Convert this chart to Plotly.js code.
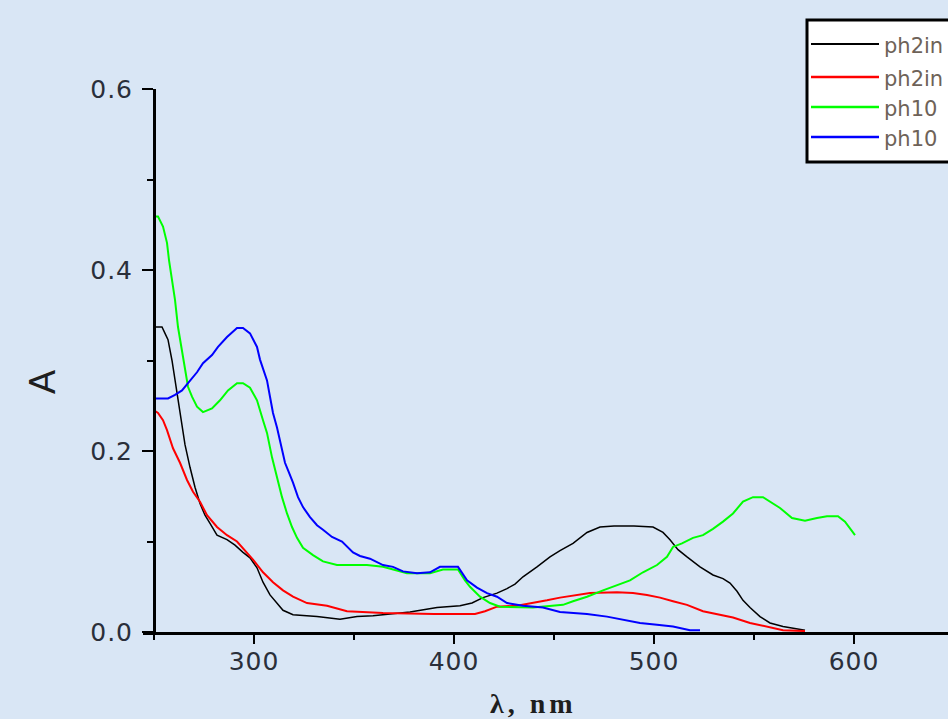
<!DOCTYPE html>
<html>
<head>
<meta charset="utf-8">
<script src="https://cdn.plot.ly/plotly-3.0.1.min.js"></script>
<style>
  html, body { margin: 0; padding: 0; overflow: hidden; background: #d9e6f5; }
  #chart { width: 948px; height: 719px; }
  .xtick text, .ytick text { letter-spacing: 1px; }
  .annotation[data-index="1"] text { letter-spacing: 4px; }
</style>
</head>
<body>
<div id="chart"></div>
<script>
// ---- data ----
const seriesNames = ["ph2in", "ph2in", "ph10", "ph10"];
const seriesColors = ["#000000", "#ff0000", "#00ff00", "#0000ff"];

const blackX = [250, 254, 255.5, 257, 259, 260.5, 262, 264, 265.5, 268, 270.5, 273, 275.5, 278, 281.5, 286.5, 290.5, 294.5, 298, 301.5, 304.5, 308, 311.5, 314.5, 319.5, 331.5, 343, 351.5, 359.5, 378, 391.5, 403, 409, 414.5, 421.5, 426.5, 430.5, 434.5, 441.5, 448, 453, 459.5, 466.5, 473, 480, 490, 499.5, 504.5, 508, 512, 516.5, 523, 529.5, 534.5, 538, 541.5, 544.5, 548, 553, 558, 564.5, 575.5];
const blackY = [0.337, 0.337, 0.330, 0.323, 0.300, 0.278, 0.256, 0.227, 0.207, 0.182, 0.160, 0.142, 0.129, 0.120, 0.107, 0.102, 0.096, 0.088, 0.082, 0.071, 0.055, 0.041, 0.032, 0.024, 0.019, 0.017, 0.014, 0.017, 0.018, 0.022, 0.027, 0.029, 0.032, 0.038, 0.043, 0.048, 0.053, 0.061, 0.072, 0.083, 0.090, 0.098, 0.110, 0.116, 0.117, 0.117, 0.116, 0.110, 0.102, 0.091, 0.083, 0.072, 0.063, 0.059, 0.054, 0.045, 0.035, 0.027, 0.017, 0.010, 0.006, 0.002];

const redX = [250, 252, 254.5, 256.5, 259.5, 263, 266.5, 269.5, 273, 276.5, 281.5, 286.5, 291.5, 296.5, 299.5, 304.5, 309.5, 314.5, 319.5, 326.5, 336.5, 346.5, 364.5, 390, 410.5, 415.5, 421.5, 431.5, 439.5, 446.5, 453, 461.5, 468, 481.5, 489.5, 496.5, 503, 509.5, 516.5, 524.5, 531.5, 539.5, 548, 556.5, 564.5, 575.5];
const redY = [0.245, 0.242, 0.234, 0.223, 0.203, 0.187, 0.168, 0.155, 0.144, 0.129, 0.116, 0.107, 0.100, 0.088, 0.080, 0.066, 0.055, 0.046, 0.039, 0.032, 0.029, 0.023, 0.021, 0.020, 0.020, 0.023, 0.028, 0.029, 0.032, 0.035, 0.038, 0.041, 0.043, 0.044, 0.043, 0.041, 0.038, 0.034, 0.030, 0.023, 0.020, 0.016, 0.010, 0.006, 0.002, 0.001];

const greenX = [250, 252, 254.5, 256.5, 257.5, 259, 260.5, 262, 264, 265.5, 267, 269, 271.5, 274.5, 279, 283, 287, 291.5, 294.5, 298, 301.5, 304.5, 306.5, 309, 311.5, 314, 316.5, 319, 321.5, 324.5, 329.5, 334.5, 341.5, 356.5, 364.5, 376.5, 388, 394.5, 402, 405.5, 408, 413, 418, 423, 439.5, 448, 454.5, 459.5, 466.5, 474.5, 481.5, 488, 494.5, 501.5, 506.5, 509.5, 514, 519.5, 524.5, 529.5, 534.5, 539.5, 544.5, 549.5, 554.5, 558, 563, 569, 575.5, 581.5, 586.5, 592, 595.5, 600.5];
const greenY = [0.459, 0.459, 0.448, 0.430, 0.411, 0.389, 0.367, 0.337, 0.312, 0.293, 0.271, 0.260, 0.249, 0.243, 0.247, 0.256, 0.267, 0.275, 0.275, 0.270, 0.256, 0.234, 0.220, 0.193, 0.171, 0.149, 0.131, 0.116, 0.104, 0.093, 0.085, 0.078, 0.074, 0.074, 0.072, 0.065, 0.065, 0.069, 0.069, 0.057, 0.050, 0.039, 0.032, 0.028, 0.027, 0.029, 0.030, 0.034, 0.039, 0.046, 0.052, 0.057, 0.066, 0.074, 0.083, 0.094, 0.098, 0.104, 0.107, 0.114, 0.122, 0.131, 0.144, 0.149, 0.149, 0.144, 0.137, 0.126, 0.123, 0.126, 0.128, 0.128, 0.122, 0.107];

const blueX = [250, 257, 260.5, 264, 267, 271.5, 274.5, 279, 282, 286.5, 291.5, 294.5, 298, 301.5, 303, 304.5, 306.5, 308, 309.5, 311.5, 314, 315.5, 317.5, 319.5, 322, 324.5, 328, 331.5, 334.5, 339, 344, 346.5, 349.5, 353, 358, 364.5, 369.5, 374.5, 381.5, 388, 393, 402, 406.5, 411.5, 416.5, 421.5, 426.5, 434.5, 444.5, 453, 466.5, 476.5, 484.5, 493, 501.5, 509.5, 518, 523];
const blueY = [0.258, 0.258, 0.262, 0.267, 0.275, 0.287, 0.297, 0.306, 0.315, 0.326, 0.336, 0.336, 0.330, 0.315, 0.301, 0.290, 0.278, 0.260, 0.242, 0.226, 0.201, 0.187, 0.176, 0.165, 0.149, 0.138, 0.127, 0.118, 0.113, 0.105, 0.100, 0.094, 0.088, 0.084, 0.081, 0.074, 0.072, 0.067, 0.065, 0.066, 0.072, 0.072, 0.057, 0.049, 0.043, 0.039, 0.032, 0.029, 0.027, 0.022, 0.020, 0.017, 0.014, 0.010, 0.008, 0.006, 0.002, 0.002];

const xTickVals = [300, 400, 500, 600];
const xTickText = ["300", "400", "500", "600"];
const yTickVals = [0, 0.2, 0.4, 0.6];
const yTickText = ["0.0", "0.2", "0.4", "0.6"];

// ---- chart ----
const xs = [blackX, redX, greenX, blueX];
const ys = [blackY, redY, greenY, blueY];
const widths = [1.5, 2, 2, 2];

const traces = xs.map((x, i) => ({
  type: "scatter", mode: "lines", x: x, y: ys[i], name: seriesNames[i],
  line: { color: seriesColors[i], width: widths[i], shape: "linear" },
  showlegend: false, hoverinfo: "skip"
}));

// pixel helpers for the hand-made legend (layout only)
const W = 948, H = 719, ML = 143, MT = 89, MB = 87;
const PW = W - ML, PH = H - MT - MB;
const px = v => (v - ML) / PW;
const py = v => (H - MB - v) / PH;

const XMIN = 244.5, XMAX = 647;
const yAxisPos = (250 - XMIN) / (XMAX - XMIN);

const legendLineY = [44, 77, 107, 137];
const shapes = [
  { type: "rect", xref: "paper", yref: "paper", x0: px(807), x1: px(1000), y0: py(162), y1: py(20),
    fillcolor: "#ffffff", line: { color: "#000000", width: 3 }, layer: "above" }
];
legendLineY.forEach((ly, i) => {
  shapes.push({ type: "line", xref: "paper", yref: "paper", x0: px(811), x1: px(879), y0: py(ly), y1: py(ly),
    line: { color: seriesColors[i], width: i === 0 ? 2 : 2.5 }, layer: "above" });
});

const annotations = [
  { text: "A", xref: "paper", yref: "paper", x: px(42), y: py(382), textangle: -90,
    showarrow: false, xanchor: "center", yanchor: "middle",
    font: { family: "Liberation Sans, Arial, sans-serif", size: 36, color: "#1e1e1e" } },
  { text: "<b>λ, nm</b>", xref: "paper", yref: "paper", x: px(533), y: py(703),
    showarrow: false, xanchor: "center", yanchor: "middle",
    font: { family: "Liberation Serif, Times New Roman, serif", size: 28, color: "#1e1e1e" } }
];
legendLineY.forEach((ly, i) => {
  annotations.push({ text: seriesNames[i], xref: "paper", yref: "paper", x: px(882), y: py(ly + 2),
    showarrow: false, xanchor: "left", yanchor: "middle",
    font: { family: "DejaVu Sans, sans-serif", size: 21, color: "#6e6258" } });
});

const tickFont = { family: "DejaVu Sans, sans-serif", size: 25, color: "#2a2f3a" };

const layout = {
  width: W, height: H,
  margin: { l: ML, r: 0, t: MT, b: MB, pad: 0, autoexpand: false },
  paper_bgcolor: "#d9e6f5", plot_bgcolor: "#d9e6f5",
  showlegend: false,
  xaxis: {
    range: [XMIN, XMAX], anchor: "y", showgrid: false, zeroline: false,
    showline: true, linecolor: "#000000", linewidth: 3,
    ticks: "outside", ticklen: 9, tickwidth: 2, tickcolor: "#000000",
    tickvals: xTickVals, ticktext: xTickText, tickfont: tickFont, ticklabelstandoff: -4,
    minor: { dtick: 50, tick0: 250, ticks: "outside", ticklen: 5, tickwidth: 2, tickcolor: "#000000", showgrid: false }
  },
  yaxis: {
    range: [0, 0.6], anchor: "free", position: yAxisPos, showgrid: false, zeroline: false,
    showline: true, linecolor: "#000000", linewidth: 3,
    ticks: "outside", ticklen: 11, tickwidth: 2, tickcolor: "#000000",
    tickvals: yTickVals, ticktext: yTickText, tickfont: tickFont, ticklabelstandoff: 4,
    minor: { dtick: 0.1, tick0: 0, ticks: "outside", ticklen: 6, tickwidth: 2, tickcolor: "#000000", showgrid: false }
  },
  shapes: shapes,
  annotations: annotations
};

Plotly.newPlot("chart", traces, layout, { displayModeBar: false, staticPlot: true });
</script>
</body>
</html>
